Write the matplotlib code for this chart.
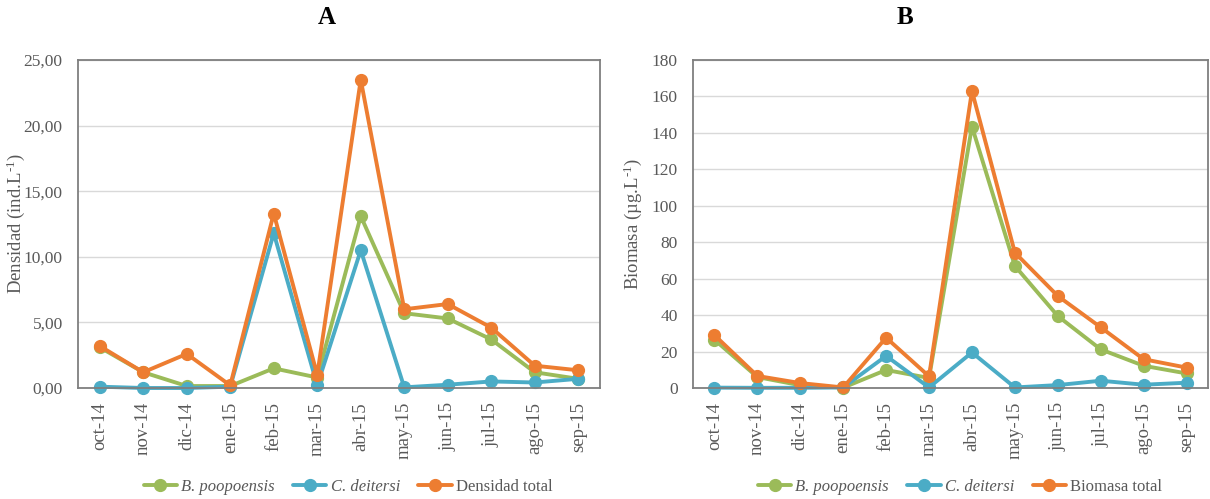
import matplotlib
matplotlib.use("Agg")
import matplotlib.pyplot as plt
from matplotlib.ticker import FuncFormatter

plt.rcParams['font.family'] = ['Liberation Serif', 'DejaVu Serif']
plt.rcParams['mathtext.fontset'] = 'custom'
plt.rcParams['mathtext.rm'] = 'Liberation Serif'
plt.rcParams['mathtext.it'] = 'Liberation Serif:italic'

months = ["oct-14", "nov-14", "dic-14", "ene-15", "feb-15", "mar-15",
          "abr-15", "may-15", "jun-15", "jul-15", "ago-15", "sep-15"]

dens_bp = [3.1, 1.2, 0.15, 0.15, 1.5, 0.8, 13.1, 5.7, 5.3, 3.7, 1.2, 0.7]
dens_cd = [0.1, 0.0, 0.0, 0.1, 11.8, 0.2, 10.5, 0.05, 0.25, 0.5, 0.42, 0.7]
dens_tot = [3.2, 1.2, 2.6, 0.2, 13.3, 1.0, 23.5, 6.0, 6.4, 4.6, 1.7, 1.35]

bio_bp = [26.5, 6.0, 1.5, 0.2, 9.9, 5.5, 143.5, 67.0, 39.5, 21.2, 12.2, 8.0]
bio_cd = [0.2, 0.1, 0.1, 0.3, 17.6, 0.3, 19.5, 0.3, 1.6, 4.0, 1.8, 2.9]
bio_tot = [29.0, 6.6, 2.7, 0.3, 27.6, 6.4, 163.0, 74.3, 50.5, 33.3, 15.8, 11.2]

GREEN = "#9BBB59"
BLUE = "#4BACC6"
ORANGE = "#ED7D31"
TXT = "#595959"

fig = plt.figure(figsize=(12.10, 4.99), dpi=100)
W, H = 1210, 499

def make_ax(left, right, top, bottom):
    return fig.add_axes([left / W, 1 - bottom / H, (right - left) / W, (bottom - top) / H])

axA = make_ax(78, 600, 60, 388)
axB = make_ax(693, 1208, 60, 388)

def style(ax, series, labels, ylim, yticks, fmt, ylabel, labx, title, titlex, legx):
    x = list(range(len(months)))
    handles = []
    for vals, col, lab in zip(series, [GREEN, BLUE, ORANGE], labels):
        h, = ax.plot(x, vals, color=col, lw=2.8, marker='o', ms=8.5, label=lab,
                     solid_capstyle='round', clip_on=False)
        handles.append(h)
    ax.set_xlim(-0.5, len(months) - 0.5)
    ax.set_ylim(*ylim)
    ax.set_yticks(yticks)
    ax.yaxis.set_major_formatter(FuncFormatter(fmt))
    ax.set_xticks(x)
    ax.set_xticklabels(months, rotation=90)
    ax.tick_params(axis='x', length=0, labelsize=13.5, colors=TXT, pad=10)
    ax.tick_params(axis='y', length=0, labelsize=12.5, colors=TXT, pad=11)
    ax.grid(axis='y', color='#d9d9d9', lw=1)
    ax.set_axisbelow(True)
    for s in ax.spines.values():
        s.set_color('#7f7f7f')
        s.set_linewidth(1.3)
    ax.set_ylabel(ylabel, fontsize=13.5, color=TXT)
    bb = ax.get_position()
    ax.yaxis.set_label_coords((labx - W * bb.x0) / (W * bb.width), 0.5)
    fig.text(titlex / W, 1 - 18 / H, title, fontsize=18, fontweight='bold',
             ha='center', va='center')
    leg = fig.legend(handles=handles, loc='center', bbox_to_anchor=(legx / W, 1 - 487 / H),
                     ncol=3, frameon=False, fontsize=12, handlelength=2.0,
                     columnspacing=1.1, handletextpad=0.25)
    for t in leg.get_texts():
        t.set_color(TXT)
    leg.get_texts()[0].set_style('italic')
    leg.get_texts()[1].set_style('italic')

style(axA, [dens_bp, dens_cd, dens_tot], ["B. poopoensis", "C. deitersi", "Densidad total"],
      (0, 25), [0, 5, 10, 15, 20, 25], lambda v, p: f"{v:.2f}".replace('.', ','),
      r"Densidad (ind.L$^{\text{-}1}$)", 27, "A", 327, 348)
style(axB, [bio_bp, bio_cd, bio_tot], ["B. poopoensis", "C. deitersi", "Biomasa total"],
      (0, 180), list(range(0, 181, 20)), lambda v, p: f"{int(v)}",
      r"Biomasa (µg.L$^{\text{-}1}$)", 644, "B", 905, 960)

fig.savefig("out.png", dpi=100)
